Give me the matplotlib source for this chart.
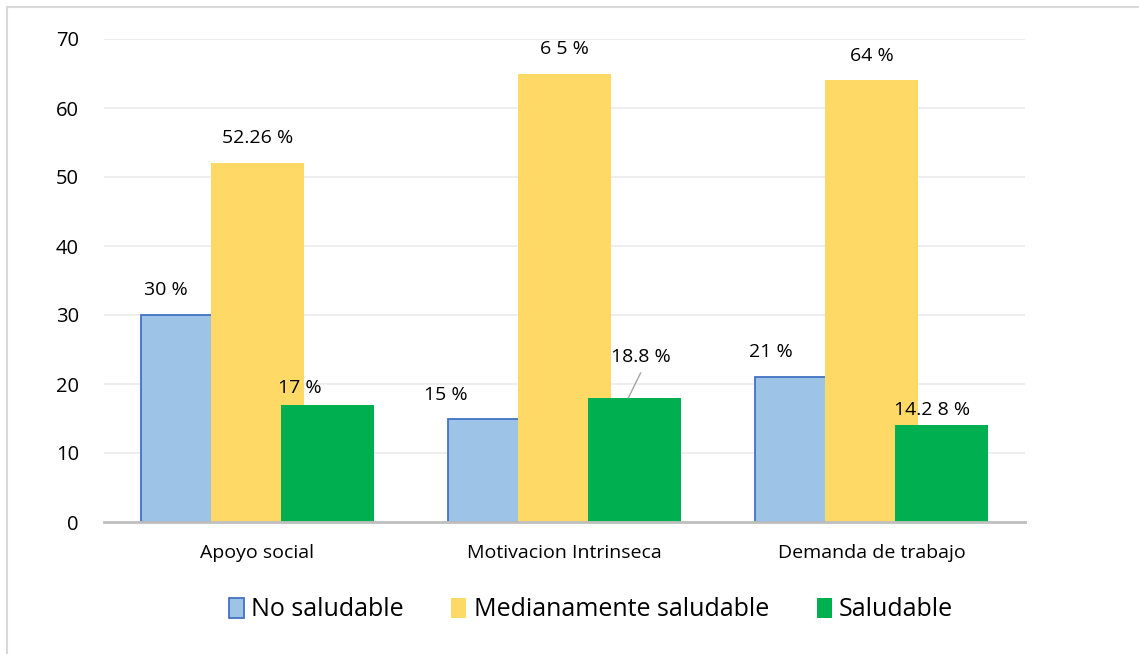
import matplotlib
matplotlib.use("Agg")
import matplotlib.pyplot as plt
import numpy as np
from matplotlib.lines import Line2D

plt.rcParams['font.family'] = ['Open Sans', 'DejaVu Sans']

categorias = ["Apoyo social", "Motivacion Intrinseca", "Demanda de trabajo"]
series = ["No saludable", "Medianamente saludable", "Saludable"]
no_saludable = [30, 15, 21]
medianamente = [52, 65, 64]
saludable = [17, 18, 14]
etiquetas = [
    ["30 %", "15 %", "21 %"],
    ["52.26 %", "6 5 %", "64 %"],
    ["17 %", "18.8 %", "14.2 8 %"],
]

colores = ["#9DC3E6", "#FFD966", "#00B050"]
bordes = ["#4472C4", "#FFD966", "#00B050"]

fig = plt.figure(figsize=(11.39, 6.54), dpi=100)
ax = fig.add_axes([104 / 1139, 1 - 522 / 654, (1025 - 104) / 1139, (522 - 39) / 654])

x = np.arange(len(categorias))
ancho = 0.30
paso = 0.228
valores = [no_saludable, medianamente, saludable]
barras = []
for i, vals in enumerate(valores):
    b = ax.bar(x + (i - 1) * paso, vals, ancho, color=colores[i],
               edgecolor=bordes[i], linewidth=1.3 if i == 0 else 0,
               label=series[i], zorder=2 + i)
    barras.append(b)

# desplazamientos de las etiquetas respecto a la parte superior de cada barra
desp = [
    [(-0.07, 3.6), (-0.16, 3.4), (-0.1, 3.7)],
    [(0, 3.6), (0, 3.6), (0, 3.6)],
    [(-0.09, 2.4), (0.02, 5.9), (-0.03, 2.2)],
]
for i, vals in enumerate(valores):
    for j, v in enumerate(vals):
        dx, dy = desp[i][j]
        xx = x[j] + (i - 1) * paso + dx
        ax.text(xx, v + dy, etiquetas[i][j], ha="center", va="center",
                fontsize=14, color="#000000", zorder=10)

# linea guia de 18.8 %
xg = x[1] + paso
ax.plot([xg - 0.02, xg + 0.02], [saludable[1], saludable[1] + 3.6],
        color="#A6A6A6", linewidth=1, zorder=9)

ax.set_xlim(-0.5, 2.5)
ax.set_ylim(0, 70)
ax.set_yticks(range(0, 71, 10))
ax.set_xticks(x)
ax.set_xticklabels(categorias, fontsize=14)
ax.tick_params(axis="y", labelsize=14.5, length=0, pad=18)
ax.tick_params(axis="x", length=0, pad=16)
ax.yaxis.grid(True, color="#EBEBEB", linewidth=1.2, zorder=0)
ax.set_axisbelow(True)
for s in ["top", "right", "left"]:
    ax.spines[s].set_visible(False)
ax.spines["bottom"].set_color("#BFBFBF")
ax.spines["bottom"].set_linewidth(2)
ax.spines["bottom"].set_zorder(20)

leg = fig.legend(handles=barras, labels=series, loc="center",
                 bbox_to_anchor=(591 / 1139, 1 - 610 / 654), ncol=3,
                 frameon=False, fontsize=18, handlelength=0.6, handleheight=0.9,
                 handletextpad=0.3, columnspacing=1.9)

# marco solo arriba e izquierda
fig.lines.append(Line2D([6.5 / 1139, 6.5 / 1139], [0, 1 - 6.5 / 654],
                        transform=fig.transFigure, color="#D9D9D9", linewidth=1.5))
fig.lines.append(Line2D([6.5 / 1139, 1], [1 - 6.5 / 654, 1 - 6.5 / 654],
                        transform=fig.transFigure, color="#D9D9D9", linewidth=1.5))

fig.savefig("out.png", dpi=100)
